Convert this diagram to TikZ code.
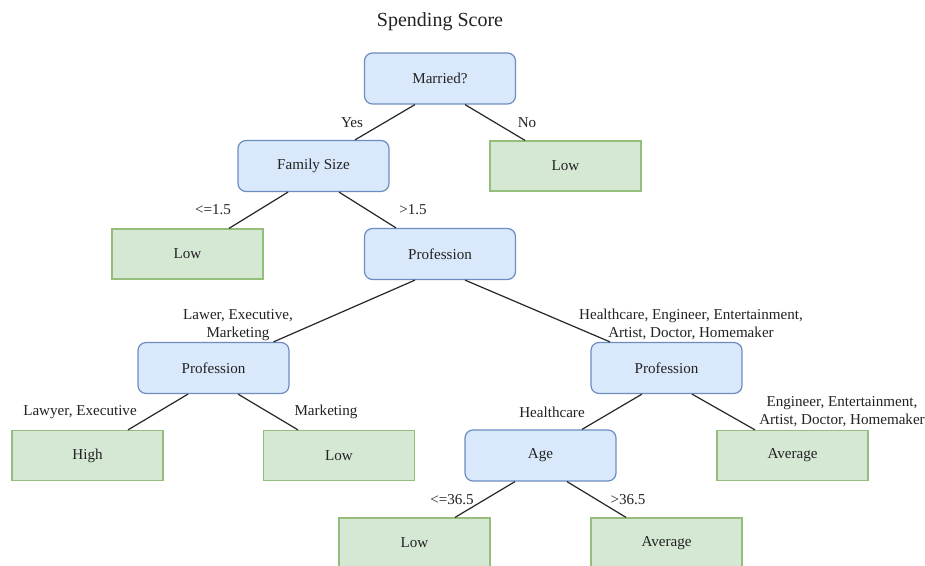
\documentclass[tikz,border=0pt]{standalone}
\usepackage{fontspec}
\setmainfont{Liberation Serif}
\definecolor{bfill}{HTML}{DAE8FC}
\definecolor{bline}{HTML}{6C8EBF}
\definecolor{gfill}{HTML}{D5E8D4}
\definecolor{gline}{HTML}{82B366}
\definecolor{txt}{HTML}{222222}
\begin{document}
\begin{tikzpicture}[x=0.5pt,y=-0.5pt,
  every node/.style={text=txt,font=\fontsize{7.55}{9}\selectfont},
  decision/.style={draw=bline,fill=bfill,rounded corners=4pt,line width=0.6pt,
    minimum width=75.5pt,minimum height=25.5pt,inner sep=0pt},
  leaf/.style={draw=gline!85,fill=gfill,line width=0.6pt,
    minimum width=75.5pt,minimum height=25pt,inner sep=0pt},
  conn/.style={draw=black!85,line width=0.6pt},
  lbl/.style={align=center,inner sep=0pt}]
\clip (0,0) rectangle (925,566);
\fill[white] (0,0) rectangle (925,566);
\node[font=\fontsize{10}{12}\selectfont] (title) at (440,22) {Spending Score};
% nodes
\node[decision] (married) at (440,78.5) {Married?};
\node[decision] (fam) at (313.5,166) {Family Size};
\node[leaf] (low1) at (565.5,166) {Low};
\node[leaf] (low2) at (187.5,254) {Low};
\node[decision] (prof1) at (440,254) {Profession};
\node[decision] (prof2) at (213.5,368) {Profession};
\node[decision] (prof3) at (666.5,368) {Profession};
\node[leaf] (high) at (87.5,455.5) {High};
\node[leaf] (low3) at (339,455.5) {Low};
\node[decision] (age) at (540.5,455.5) {Age};
\node[leaf] (avg1) at (792.5,455.5) {Average};
\node[leaf] (low4) at (414.5,543) {Low};
\node[leaf] (avg2) at (666.5,543) {Average};
% connectors
\draw[conn] ([xshift=-12.5pt]married.south) -- ([xshift=20.75pt]fam.north);
\draw[conn] ([xshift=12.5pt]married.south) -- ([xshift=-20.25pt]low1.north);
\draw[conn] ([xshift=-12.75pt]fam.south) -- ([xshift=20.75pt]low2.north);
\draw[conn] ([xshift=12.75pt]fam.south) -- ([xshift=-22pt]prof1.north);
\draw[conn] ([xshift=-12.5pt]prof1.south) -- ([xshift=30pt]prof2.north);
\draw[conn] ([xshift=12.5pt]prof1.south) -- ([xshift=-28.25pt]prof3.north);
\draw[conn] ([xshift=-12.75pt]prof2.south) -- ([xshift=20.25pt]high.north);
\draw[conn] ([xshift=12.25pt]prof2.south) -- ([xshift=-20.5pt]low3.north);
\draw[conn] ([xshift=-12.25pt]prof3.south) -- ([xshift=20.75pt]age.north);
\draw[conn] ([xshift=12.75pt]prof3.south) -- ([xshift=-18.75pt]avg1.north);
\draw[conn] ([xshift=-12.75pt]age.south) -- ([xshift=20.25pt]low4.north);
\draw[conn] ([xshift=13.25pt]age.south) -- ([xshift=-20.25pt]avg2.north);
% labels
\node[lbl] (lyes) at (352,123) {Yes};
\node[lbl] (lno) at (527,123) {No};
\node[lbl] (lle15) at (213,210) {<=1.5};
\node[lbl] (lgt15) at (413,210) {>1.5};
\node[lbl] (llem) at (238,325) {Lawer, Executive,\\Marketing};
\node[lbl] (lhe) at (691,324) {Healthcare, Engineer, Entertainment,\\Artist, Doctor, Homemaker};
\node[lbl] (llaw) at (80,412) {Lawyer, Executive};
\node[lbl] (lmark) at (326,412) {Marketing};
\node[lbl] (lhc) at (552,412) {Healthcare};
\node[lbl] (leng) at (842,412) {Engineer, Entertainment,\\Artist, Doctor, Homemaker};
\node[lbl] (lle36) at (452,500) {<=36.5};
\node[lbl] (lgt36) at (628,500) {>36.5};
\end{tikzpicture}
\end{document}
